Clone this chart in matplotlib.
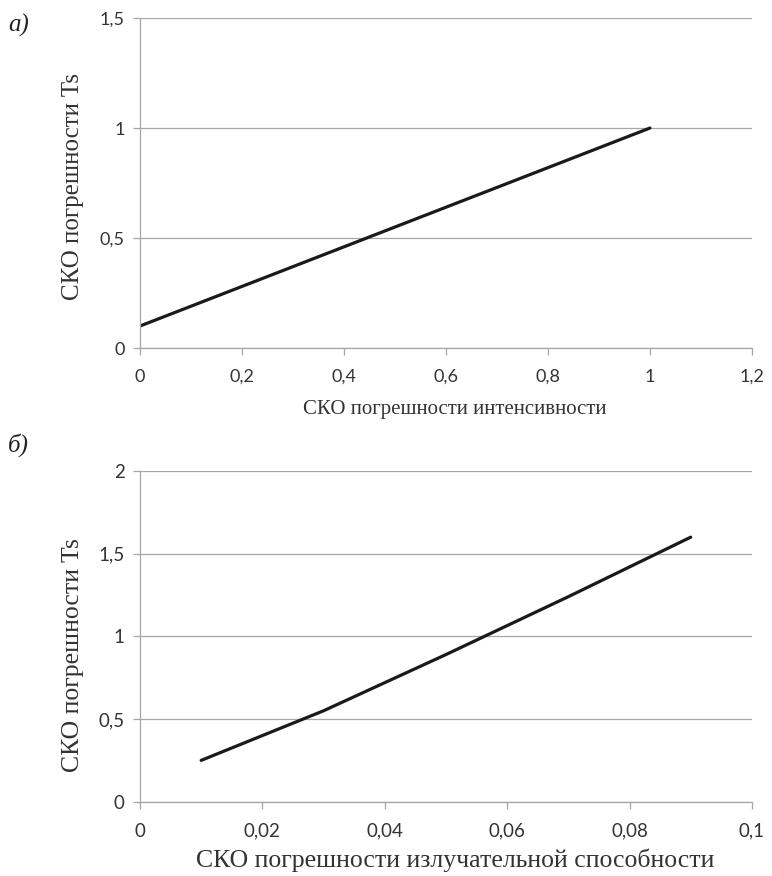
import matplotlib
matplotlib.use("Agg")
import matplotlib.pyplot as plt
from matplotlib.ticker import FuncFormatter

# panel a: intensity error -> Ts error
x_int = [0, 0.2, 0.4, 0.6, 0.8, 1.0]
ts_int = [0.1, 0.28, 0.46, 0.64, 0.82, 1.0]
xticks_a = [0, 0.2, 0.4, 0.6, 0.8, 1.0, 1.2]
yticks_a = [0, 0.5, 1.0, 1.5]

# panel b: emissivity error -> Ts error
x_em = [0.01, 0.03, 0.05, 0.07, 0.09]
ts_em = [0.25, 0.55, 0.89, 1.24, 1.6]
xticks_b = [0, 0.02, 0.04, 0.06, 0.08, 0.1]
yticks_b = [0, 0.5, 1.0, 1.5, 2.0]

ylabel = "СКО погрешности Ts"
xlabel_a = "СКО погрешности интенсивности"
xlabel_b = "СКО погрешности излучательной способности"

GRID = "#a6a6a6"
TICK_FONT = "Lato"
SERIF = "Liberation Serif"
TXT = "#333333"


def comma(v, pos):
    s = ("%.2f" % v).rstrip("0").rstrip(".")
    return s.replace(".", ",")


def style_axes(ax, xticks, yticks, size):
    ax.set_xlim(xticks[0], xticks[-1])
    ax.set_ylim(yticks[0], yticks[-1])
    ax.set_xticks(xticks)
    ax.set_yticks(yticks)
    ax.xaxis.set_major_formatter(FuncFormatter(comma))
    ax.yaxis.set_major_formatter(FuncFormatter(comma))
    ax.grid(axis="y", color=GRID, linewidth=0.9)
    ax.set_axisbelow(True)
    for side in ["top", "right"]:
        ax.spines[side].set_visible(False)
    for side in ["left", "bottom"]:
        ax.spines[side].set_color(GRID)
        ax.spines[side].set_linewidth(0.9)
    ax.tick_params(axis="both", colors=GRID, length=5, width=0.9,
                   labelcolor=TXT, labelsize=size, pad=6)
    ax.tick_params(axis="x", pad=10)
    for lab in ax.get_xticklabels() + ax.get_yticklabels():
        lab.set_fontfamily(TICK_FONT)


fig = plt.figure(figsize=(7.72, 8.76), dpi=100)

ax1 = fig.add_axes([0.1813, 0.6027, 0.7927, 0.3767])
ax1.plot(x_int, ts_int, color="#1a1a1a", linewidth=2.3, solid_capstyle="round")
style_axes(ax1, xticks_a, yticks_a, 13)

ax2 = fig.add_axes([0.1813, 0.0848, 0.7927, 0.3775])
ax2.plot(x_em, ts_em, color="#1a1a1a", linewidth=2.3, solid_capstyle="round")
style_axes(ax2, xticks_b, yticks_b, 13.5)

# axis titles placed like in the source
fig.text(455 / 772, 1 - 410 / 876, xlabel_a, ha="center", va="center",
         family=SERIF, fontsize=15, color=TXT)
fig.text(455 / 772, 1 - 860 / 876, xlabel_b, ha="center", va="center",
         family=SERIF, fontsize=18.5, color=TXT)
fig.text(73 / 772, 1 - 186 / 876, ylabel, ha="center", va="center",
         rotation=90, family=SERIF, fontsize=18, color=TXT)
fig.text(73 / 772, 1 - 655 / 876, ylabel, ha="center", va="center",
         rotation=90, family=SERIF, fontsize=18.5, color=TXT)

fig.text(8 / 772, 1 - 25 / 876, "а)", ha="left", va="center",
         family=SERIF, style="italic", fontsize=18, color="#222222")
fig.text(8 / 772, 1 - 445 / 876, "б)", ha="left", va="center",
         family=SERIF, style="italic", fontsize=18, color="#222222")

fig.savefig("out.png", dpi=100, facecolor="white")
